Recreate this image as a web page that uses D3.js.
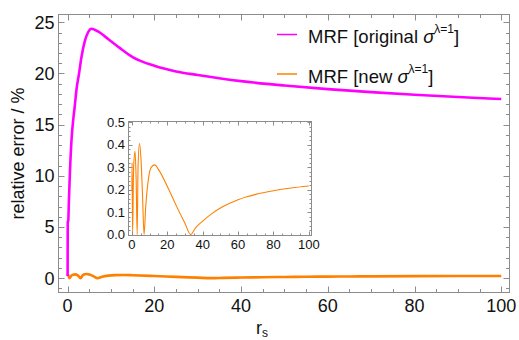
<!DOCTYPE html>
<html>
<head>
<meta charset="utf-8">
<script src="https://cdn.jsdelivr.net/npm/d3@7"></script>
<style>
  body { margin: 0; background: white; }
  svg { display: block; font-family: "Liberation Sans", Arial, sans-serif; }
</style>
</head>
<body>
<div class="chart"></div>
<script>
let w = 519;
let h = 340;

// MRF [original sigma^(lambda=1)]
let origR   = [0, 0.03, 0.15, 0.3, 0.55, 0.9, 1.3, 1.6, 2.1, 2.6, 3.2, 4.0, 4.7, 5.5, 7, 8.5, 10, 12, 15, 20, 25, 30, 40, 50, 60, 70, 80, 90, 100];
let origErr = [0.2, 5.5, 5.6, 7.6, 10.5, 13.5, 15.5, 16.6, 18.6, 19.9, 21.6, 23.2, 24.0, 24.37, 24.1, 23.65, 23.15, 22.5, 21.6, 20.75, 20.2, 19.85, 19.25, 18.82, 18.47, 18.18, 17.92, 17.7, 17.5];

// MRF [new sigma^(lambda=1)]
let newR   = [0, 0.12, 0.4, 1.0, 1.8, 2.4, 3.0, 3.5, 4.3, 5.2, 6.0, 6.9, 7.8, 9.4, 11, 13, 15, 20, 25, 30, 33.2, 36, 40, 45, 50, 55, 60, 65, 70, 80, 90, 100];
let newErr = [0.2, 0.32, 0, 0.3, 0.37, 0.25, 0, 0.3, 0.405, 0.33, 0.18, 0, 0.12, 0.25, 0.3, 0.31, 0.29, 0.215, 0.13, 0.05, 0, 0.03, 0.06, 0.092, 0.118, 0.138, 0.155, 0.168, 0.179, 0.195, 0.207, 0.216];

let xTicks = [0, 20, 40, 60, 80, 100];
let yTicks = [0, 5, 10, 15, 20, 25];
let insetYTicks = [0, 0.1, 0.2, 0.3, 0.4, 0.5];
let legendLabels = ["MRF [original ", "MRF [new "];

let magenta = "#ff00ff";
let orange = "#ff8000";
let frameColor = "#8c8c8c";

const svg = d3.select(".chart")
              .append("svg")
              .attr("width", w)
              .attr("height", h)

// main frame box
let mLeft = 58.5, mRight = 509.5, mTop = 14.5, mBottom = 292.5;

const xScale = d3.scaleLinear()
                 .domain([-2.1, 101.9])
                 .range([mLeft, mRight])
const yScale = d3.scaleLinear()
                 .domain([-1.4, 25.76])
                 .range([mBottom, mTop])

// draws a mathematica style frame with ticks pointing inward
function frame(g, xs, ys, xMajor, xMinorStep, yMajor, yMinorStep, major, minor) {
  let [x0, x1] = xs.range();
  let [y0, y1] = ys.range();
  g.append("rect")
   .attr("x", x0).attr("y", y1)
   .attr("width", x1 - x0).attr("height", y0 - y1)
   .attr("fill", "none")
   .attr("stroke", frameColor)
   .attr("stroke-width", 1)

  let xd = xs.domain(), yd = ys.domain();
  let xMinor = d3.range(Math.ceil(xd[0] / xMinorStep) * xMinorStep, xd[1], xMinorStep)
  let yMinor = d3.range(Math.ceil(yd[0] / yMinorStep - 1e-9) * yMinorStep, yd[1] + 1e-9, yMinorStep)
  let isMajor = (v, list) => list.some(m => Math.abs(m - v) < 1e-6);

  xMinor.forEach(v => {
    let len = isMajor(v, xMajor) ? major : minor;
    let px = Math.round(xs(v)) + 0.5;
    g.append("line").attr("x1", px).attr("x2", px).attr("y1", y0).attr("y2", y0 - len)
     .attr("stroke", frameColor)
    g.append("line").attr("x1", px).attr("x2", px).attr("y1", y1).attr("y2", y1 + len)
     .attr("stroke", frameColor)
  })
  yMinor.forEach(v => {
    let len = isMajor(v, yMajor) ? major : minor;
    let py = Math.round(ys(v)) + 0.5;
    g.append("line").attr("x1", x0).attr("x2", x0 + len).attr("y1", py).attr("y2", py)
     .attr("stroke", frameColor)
    g.append("line").attr("x1", x1).attr("x2", x1 - len).attr("y1", py).attr("y2", py)
     .attr("stroke", frameColor)
  })
}

const main = svg.append("g")

svg.append("clipPath").attr("id", "mainclip")
   .append("rect").attr("x", mLeft).attr("y", mTop).attr("width", mRight - mLeft).attr("height", mBottom - mTop)

const line = d3.line()
               .x(d => xScale(d[0]))
               .y(d => yScale(d[1]))
               .curve(d3.curveMonotoneX)

main.append("path")
    .datum(d3.zip(newR, newErr))
    .attr("d", line)
    .attr("fill", "none")
    .attr("stroke", orange)
    .attr("stroke-width", 2.6)
    .attr("clip-path", "url(#mainclip)")

main.append("path")
    .datum(d3.zip(origR, origErr))
    .attr("d", line)
    .attr("fill", "none")
    .attr("stroke", magenta)
    .attr("stroke-width", 2.6)
    .attr("clip-path", "url(#mainclip)")

frame(main, xScale, yScale, xTicks, 5, yTicks, 1, 6, 3.5)

main.selectAll(".xlab")
    .data(xTicks)
    .enter()
    .append("text")
    .attr("x", d => xScale(d))
    .attr("y", 311.5)
    .attr("text-anchor", "middle")
    .style("font-size", "18px")
    .attr("fill", "#111")
    .text(d => d)

main.selectAll(".ylab")
    .data(yTicks)
    .enter()
    .append("text")
    .attr("x", 54.5)
    .attr("y", d => yScale(d) + 6.5)
    .attr("text-anchor", "end")
    .style("font-size", "18px")
    .attr("fill", "#111")
    .text(d => d)

// axis titles
svg.append("text")
   .attr("transform", "translate(24," + ((mTop + mBottom) / 2) + ") rotate(-90)")
   .attr("text-anchor", "middle")
   .style("font-size", "18px")
   .attr("fill", "#111")
   .text("relative error / %")

let xt = svg.append("text")
   .attr("x", 256)
   .attr("y", 333.5)
   .style("font-size", "18px")
   .attr("fill", "#111")
xt.append("tspan").text("r")
xt.append("tspan").attr("dy", 3.5).style("font-size", "12px").text("s")

// legend
let legendColors = [magenta, orange];
let legendY = [34.5, 74];
legendLabels.forEach((lab, i) => {
  svg.append("line")
     .attr("x1", 277).attr("x2", 297)
     .attr("y1", legendY[i]).attr("y2", legendY[i])
     .attr("stroke", legendColors[i])
     .attr("stroke-width", 1.5)
  let t = svg.append("text")
     .attr("x", 308)
     .attr("y", legendY[i] + 8.5)
     .style("font-size", "18.5px")
     .attr("fill", "#111")
  t.append("tspan").text(lab)
  t.append("tspan").style("font-style", "italic").text("σ")
  t.append("tspan").attr("dy", -10).style("font-size", "12px").text("λ=1")
  t.append("tspan").attr("dy", 10).text("]")
})

// inset
let iLeft = 128.5, iRight = 311.5, iTop = 121.5, iBottom = 235.5;
const ix = d3.scaleLinear()
             .domain([-1.9, 101.5])
             .range([iLeft, iRight])
const iy = d3.scaleLinear()
             .domain([-0.004, 0.503])
             .range([iBottom, iTop])

const inset = svg.append("g")
inset.append("rect")
     .attr("x", iLeft).attr("y", iTop)
     .attr("width", iRight - iLeft).attr("height", iBottom - iTop)
     .attr("fill", "white")

svg.append("clipPath").attr("id", "insetclip")
   .append("rect").attr("x", iLeft).attr("y", iTop).attr("width", iRight - iLeft).attr("height", iBottom - iTop)

const iline = d3.line()
                .x(d => ix(d[0]))
                .y(d => iy(d[1]))
                .curve(d3.curveMonotoneX)

inset.append("path")
     .datum(d3.zip(newR, newErr))
     .attr("d", iline)
     .attr("fill", "none")
     .attr("stroke", orange)
     .attr("stroke-width", 1.1)
     .attr("clip-path", "url(#insetclip)")

frame(inset, ix, iy, xTicks, 5, insetYTicks, 0.02, 4, 2)

inset.selectAll(".ixlab")
     .data(xTicks)
     .enter()
     .append("text")
     .attr("x", d => ix(d))
     .attr("y", 249)
     .attr("text-anchor", "middle")
     .style("font-size", "13px")
     .attr("fill", "#111")
     .text(d => d)

inset.selectAll(".iylab")
     .data(insetYTicks)
     .enter()
     .append("text")
     .attr("x", 125)
     .attr("y", d => iy(d) + 4.7)
     .attr("text-anchor", "end")
     .style("font-size", "13px")
     .attr("fill", "#111")
     .text(d => d3.format(".1f")(d))
</script>
</body>
</html>
